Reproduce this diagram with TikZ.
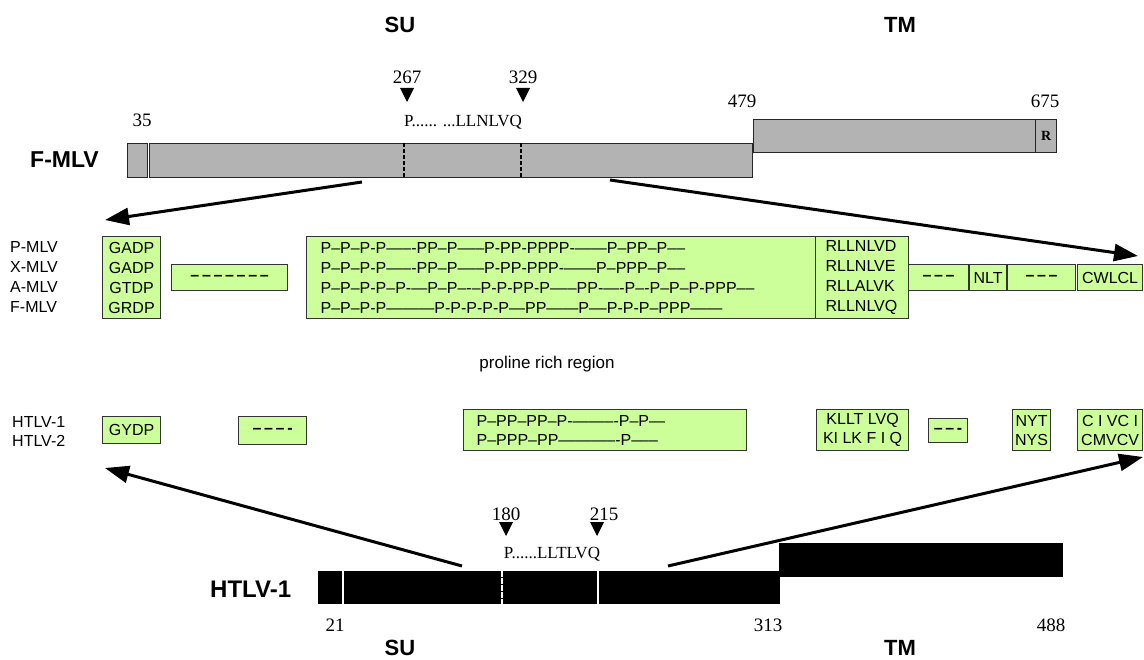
\documentclass[tikz,border=0pt]{standalone}
\usepackage{fontspec}
\setmainfont{Liberation Serif}
\setsansfont{Liberation Sans}
\usetikzlibrary{arrows.meta}
\definecolor{lgreen}{RGB}{204,255,153}
\definecolor{bargray}{RGB}{179,179,179}
\begin{document}
\begin{tikzpicture}[x=1pt,y=-1pt,
  gbox/.style={draw=black!80,line width=1.2pt,fill=lgreen,inner sep=0pt,anchor=north west,font=\sffamily\fontsize{16}{20}\selectfont,align=center},
  dbox/.style={gbox,font=\sffamily\bfseries\fontsize{16}{20}\selectfont},
  gbar/.style={draw=black!85,line width=1.3pt,fill=bargray,inner sep=0pt,anchor=north west},
  kbar/.style={fill=black,inner sep=0pt,anchor=north west},
  num/.style={font=\fontsize{19}{22}\selectfont,anchor=base,inner sep=0pt},
  seq/.style={font=\fontsize{17}{20}\selectfont,anchor=base,inner sep=0pt},
  title/.style={font=\sffamily\bfseries\fontsize{22}{26}\selectfont,anchor=base,inner sep=0pt},
  lbl/.style={font=\sffamily\fontsize{16}{20}\selectfont,align=left,anchor=west,inner sep=0pt},
  bigarrow/.style={line width=3pt,-{Triangle[length=24pt,width=17pt]}},
  tri/.style={fill=black}]
\useasboundingbox (0,0) rectangle (1144,660);

% titles
\node[title] (su1) at (400,33) {SU};
\node[title] (tm1) at (900,33) {TM};
\node[title] (su2) at (400,655) {SU};
\node[title] (tm2) at (900,655) {TM};

% ---------- F-MLV bar ----------
\node[title,font=\sffamily\bfseries\fontsize{23}{26}\selectfont,anchor=base west] (fmlv) at (30,168) {F-MLV};
\node[gbar,minimum width=20,minimum height=34] (sig) at (127,143) {};
\node[gbar,minimum width=603,minimum height=34] (fsu) at (149,143) {};
\node[gbar,minimum width=282,minimum height=33] (ftm) at (753,119) {};
\node[gbar,minimum width=21,minimum height=33,font=\bfseries\fontsize{14}{15}\selectfont] (rbox) at (1035,119) {R};
\draw[dash pattern=on 4pt off 2pt,line width=1.8pt] (404,143) -- (404,177);
\draw[dash pattern=on 4pt off 2pt,line width=1.8pt] (521,143) -- (521,177);
\node[num] (n35) at (142,127) {35};
\node[num] (n267) at (407,84) {267};
\node[num] (n329) at (523,84) {329};
\node[num] (n479) at (742,108) {479};
\node[num] (n675) at (1045,108) {675};
\fill[tri] (400,88) -- (414,88) -- (407,102) -- cycle;
\fill[tri] (516,88) -- (530,88) -- (523,102) -- cycle;
\node[seq] (fseq) at (463,127) {P...... ...LLNLVQ};

% ---------- MLV boxes ----------
\node[lbl] (mlvlab) at (10,277) {P-MLV\\X-MLV\\A-MLV\\F-MLV};
\node[gbox,minimum width=58,minimum height=82] (gadp) at (102,236) {GADP\\GADP\\GTDP\\GRDP};
\node[dbox,minimum width=116,minimum height=26] (md1) at (171,264) {–\,–\,–\,–\,–\,–\,–};
\node[gbox,minimum width=509,minimum height=82,text width=481,align=left] (pbox) at (306,236)
 {P–P–P-P—–-PP–P–––P-PP-PPPP-——P--PP--P–--\\
  P–P–P-P—–-PP–P–––P-PP-PPP-——P–PPP--P–--\\
  P–P–P-P–P-—P–P–-–P-P-PP-P–––PP-—-P–-P--P–P-PPP–--\\
  P–P–P-P———P-P-P-P-P—PP——P–--P-P-P--PPP——};
\node[gbox,minimum width=93,minimum height=82,text width=73,align=left] (rll) at (815,236) {RLLNLVD\\RLLNLVE\\RLLALVK\\RLLNLVQ};
\node[dbox,minimum width=60,minimum height=26] (md2) at (908,264) {–\,–\,–};
\node[gbox,minimum width=37,minimum height=26] (nlt) at (969,264) {NLT};
\node[dbox,minimum width=68,minimum height=26] (md3) at (1007,264) {–\,–\,–};
\node[gbox,minimum width=65,minimum height=26] (cwl) at (1077,264) {CWLCL};

\node[font=\sffamily\fontsize{17}{20}\selectfont,inner sep=0pt] (prr) at (547,364) {proline rich region};

% ---------- HTLV boxes ----------
\node[lbl,font=\sffamily\fontsize{16}{19}\selectfont] (htlab) at (12,431) {HTLV-1\\HTLV-2};
\node[gbox,minimum width=58,minimum height=27] (gydp) at (102,416) {GYDP};
\node[dbox,minimum width=68,minimum height=28] (hd1) at (238,416) {–\,–\,–\,-};
\node[gbox,minimum width=283,minimum height=41,text width=257,align=left,font=\sffamily\fontsize{16}{19}\selectfont] (hpbox) at (463,409)
 {P--PP--PP–P-——–-P–P—\\
  P--PPP–PP———–-P–––};
\node[gbox,minimum width=92,minimum height=41,font=\sffamily\fontsize{16}{19}\selectfont] (kll) at (816,409) {KLLT LVQ\\KI LK F I Q};
\node[dbox,minimum width=39,minimum height=24] (hd2) at (928,418) {–\,–\,-};
\node[gbox,minimum width=38,minimum height=41,font=\sffamily\fontsize{16}{19}\selectfont] (nyt) at (1012,409) {NYT\\NYS};
\node[gbox,minimum width=65,minimum height=41,font=\sffamily\fontsize{16}{19}\selectfont] (civ) at (1077,409) {C I VC I\\CMVCV};

% ---------- HTLV-1 bar ----------
\node[title,font=\sffamily\bfseries\fontsize{24}{26}\selectfont,anchor=base west] (htlv) at (210,597) {HTLV-1};
\node[kbar,minimum width=462,minimum height=33] (hsu) at (318,571) {};
\node[kbar,minimum width=284,minimum height=34] (htm) at (779,543) {};
\draw[white,line width=2pt] (343,571) -- (343,604);
\draw[white,line width=2pt,dash pattern=on 6pt off 1pt] (502,571) -- (502,604);
\draw[white,line width=2pt] (598,571) -- (598,604);
\node[num] (n180) at (506,520) {180};
\node[num] (n215) at (604,520) {215};
\fill[tri] (499,522) -- (513,522) -- (506,536) -- cycle;
\fill[tri] (590,522) -- (604,522) -- (597,536) -- cycle;
\node[seq] (hseq) at (552,558) {P......LLTLVQ};
\node[num] (n21) at (335,631) {21};
\node[num] (n313) at (768,631) {313};
\node[num] (n488) at (1051,631) {488};

% ---------- arrows ----------
\coordinate (a1s) at (362,182);
\coordinate (a1e) at (105,220);
\coordinate (a2s) at (610,180);
\coordinate (a2e) at (1138,256);
\coordinate (a3s) at (462,566);
\coordinate (a3e) at (105,468);
\coordinate (a4s) at (668,566);
\coordinate (a4e) at (1143,457);
\draw[bigarrow] (a1s) -- (a1e);
\draw[bigarrow] (a2s) -- (a2e);
\draw[bigarrow] (a3s) -- (a3e);
\draw[bigarrow] (a4s) -- (a4e);
\end{tikzpicture}
\end{document}
